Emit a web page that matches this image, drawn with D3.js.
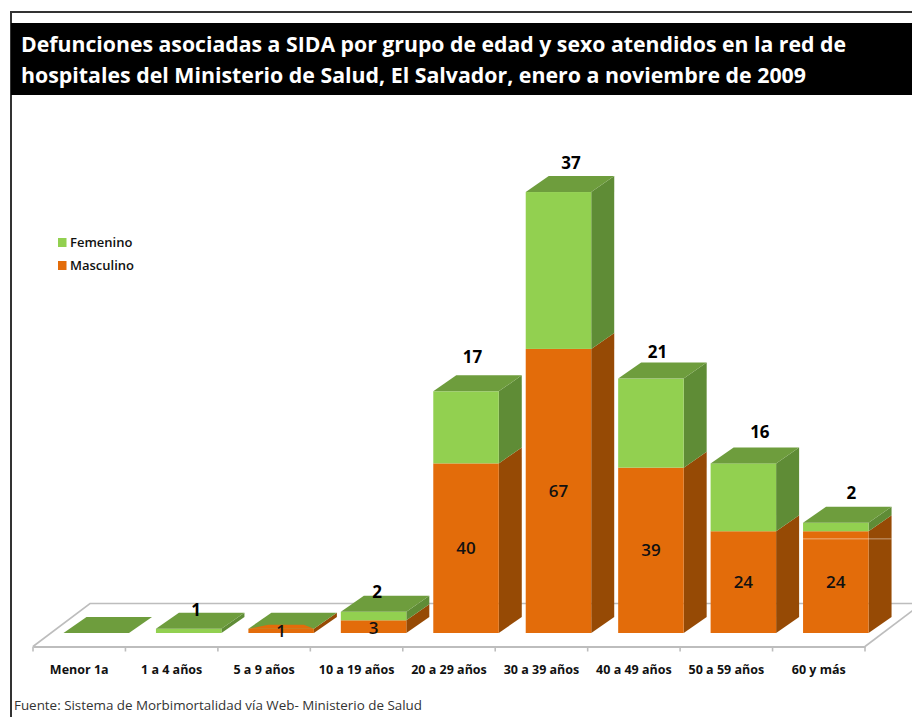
<!DOCTYPE html>
<html><head><meta charset="utf-8">
<script src="https://cdn.jsdelivr.net/npm/d3@7"></script>
<style>html,body{margin:0;padding:0;background:#fff}svg{display:block}
text{font-family:"Open Sans","Noto Sans",sans-serif}</style></head>
<body><svg id="c" width="912" height="717"></svg>
<script>
const titleLines = ["Defunciones asociadas a SIDA por grupo de edad y sexo atendidos en la red de",
                    "hospitales del Ministerio de Salud, El Salvador, enero a noviembre de 2009"];
const source = "Fuente: Sistema de Morbimortalidad vía Web- Ministerio de Salud";
const categories = ["Menor 1a","1 a 4 años","5 a 9 años","10 a 19 años","20 a 29 años","30 a 39 años","40 a 49 años","50 a 59 años","60 y más"];
const masculino = [0,0,1,3,40,67,39,24,24];
const femenino  = [0,1,0,2,17,37,21,16,2];
const legendNames = ["Femenino","Masculino"];
// hand placement of data labels relative to the default spot, as in the picture
const femNudge = [null,[-5,10],null,[-9,9],[-6,-5],[0,0],[-6,2],[4,-2],[3,-1]];
const mascNudge = [0,0,0,1,0,0,0,0,0];

const ORANGE="#E36C0A", ORANGE_SIDE="#964A05", GREEN="#92D050", GREEN_TOP="#6E9D3D", GREEN_SIDE="#5F8C36", GRID="#BDBDBD";
const svg=d3.select("#c");

// frame and title band
svg.append("rect").attr("x",10).attr("y",11).attr("width",902).attr("height",2).attr("fill","#333");
svg.append("rect").attr("x",10).attr("y",11).attr("width",2).attr("height",706).attr("fill","#333");
svg.append("rect").attr("x",11).attr("y",23).attr("width",901).attr("height",72).attr("fill","#000");
const titleWidths=[825,785];
svg.selectAll(".t").data(titleLines).join("text").attr("class","t")
  .attr("x",21).attr("y",(d,i)=>52+i*31).attr("fill","#fff")
  .attr("font-size",21.5).attr("font-weight",700)
  .attr("textLength",(d,i)=>titleWidths[i]).attr("lengthAdjust","spacingAndGlyphs").text(d=>d);

// scales
const x=d3.scaleBand().domain(categories).range([33,865]);
const y=d3.scaleLinear().domain([0,100]).range([633,209]);
const barInset=30.5, barW=65.5, depthX=23, depthY=16;
const floorDX=57, floorDY=43, floorY=646.5;

// floor
const floor=svg.append("g").attr("fill","none").attr("stroke",GRID).attr("stroke-width",1.6);
floor.append("path").attr("d",d3.line()([[33,floorY],[33+floorDX,floorY-floorDY],[912,floorY-floorDY]]));
floor.append("path").attr("d",d3.line()([[865,floorY],[865+floorDX,floorY-floorDY]]));

// axis
const axis=svg.append("g").attr("transform",`translate(0,${floorY})`)
  .call(d3.axisBottom(x).tickSize(0).tickPadding(18.5));
axis.select(".domain").attr("stroke",GRID).attr("stroke-width",1.8);
axis.selectAll("text").attr("font-size",12.5).attr("font-weight",700).attr("fill","#111");
const tickVals=categories.map(c=>x(c)).concat([865]);
axis.selectAll("line.tk").data(tickVals).join("line").attr("class","tk")
  .attr("x1",d=>d).attr("x2",d=>d).attr("y1",0).attr("y2",5).attr("stroke",GRID).attr("stroke-width",1.6);

// 3D stacked bars
function poly(g,pts,fill){g.append("polygon").attr("points",pts.map(p=>p.join(",")).join(" ")).attr("fill",fill);}
categories.forEach((c,i)=>{
  const g=svg.append("g");
  const x0=x(c)+barInset, x1=x0+barW;
  const yB=y(0), yM=y(masculino[i]), yT=y(masculino[i]+femenino[i]);
  if(masculino[i]>0){
    poly(g,[[x1,yB],[x1+depthX,yB-depthY],[x1+depthX,yM-depthY],[x1,yM]],ORANGE_SIDE);
    g.append("rect").attr("x",x0).attr("y",yM).attr("width",barW).attr("height",yB-yM).attr("fill",ORANGE);
  }
  if(femenino[i]>0){
    poly(g,[[x1,yM],[x1+depthX,yM-depthY],[x1+depthX,yT-depthY],[x1,yT]],GREEN_SIDE);
    g.append("rect").attr("x",x0).attr("y",yT).attr("width",barW).attr("height",yM-yT).attr("fill",GREEN);
  }
  poly(g,[[x0,yT],[x1,yT],[x1+depthX,yT-depthY],[x0+depthX,yT-depthY]],GREEN_TOP);
  // where the top is all that covers the orange bar, the orange shows through at its front edge
  if(masculino[i]>0 && femenino[i]===0){
    poly(g,[[x0,yT],[x1,yT],[x1-10,yT-4],[x0+20,yT-4]],ORANGE);
  }
});

// thin pale seam across the last bar, as in the picture
const lastX=x(categories[8])+barInset;
svg.append("line").attr("x1",lastX).attr("x2",lastX+barW+depthX).attr("y1",y(22.2)).attr("y2",y(22.2))
  .attr("stroke","#fff").attr("stroke-opacity",0.6).attr("stroke-width",0.8);

// data labels
categories.forEach((c,i)=>{
  const cx=x(c)+barInset+barW/2;
  if(masculino[i]>0){
    const m=y(masculino[i]/2);
    svg.append("text").attr("x",cx).attr("y",m+6+mascNudge[i]).attr("text-anchor","middle")
      .attr("font-size",17).attr("font-weight",600).attr("fill","#111").text(masculino[i]);
  }
  if(femenino[i]>0 && femNudge[i]){
    const t=y(masculino[i]+femenino[i]);
    svg.append("text").attr("x",cx+12.5+femNudge[i][0]).attr("y",t-depthY-7+femNudge[i][1]).attr("text-anchor","middle")
      .attr("font-size",17).attr("font-weight",700).attr("fill","#000").text(femenino[i]);
  }
});

// legend
const legendColors=[GREEN,ORANGE];
const lg=svg.selectAll(".lg").data(legendNames).join("g").attr("class","lg")
  .attr("transform",(d,i)=>`translate(58,${238+i*23})`);
lg.append("rect").attr("width",8.5).attr("height",9).attr("fill",(d,i)=>legendColors[i]);
lg.append("text").attr("x",12).attr("y",9).attr("font-size",13).attr("font-weight",600).attr("fill","#111").text(d=>d);

// source
svg.append("text").attr("x",14).attr("y",710).attr("font-size",13).attr("fill","#333")
  .attr("textLength",408).attr("lengthAdjust","spacingAndGlyphs").text(source);
</script></body></html>
